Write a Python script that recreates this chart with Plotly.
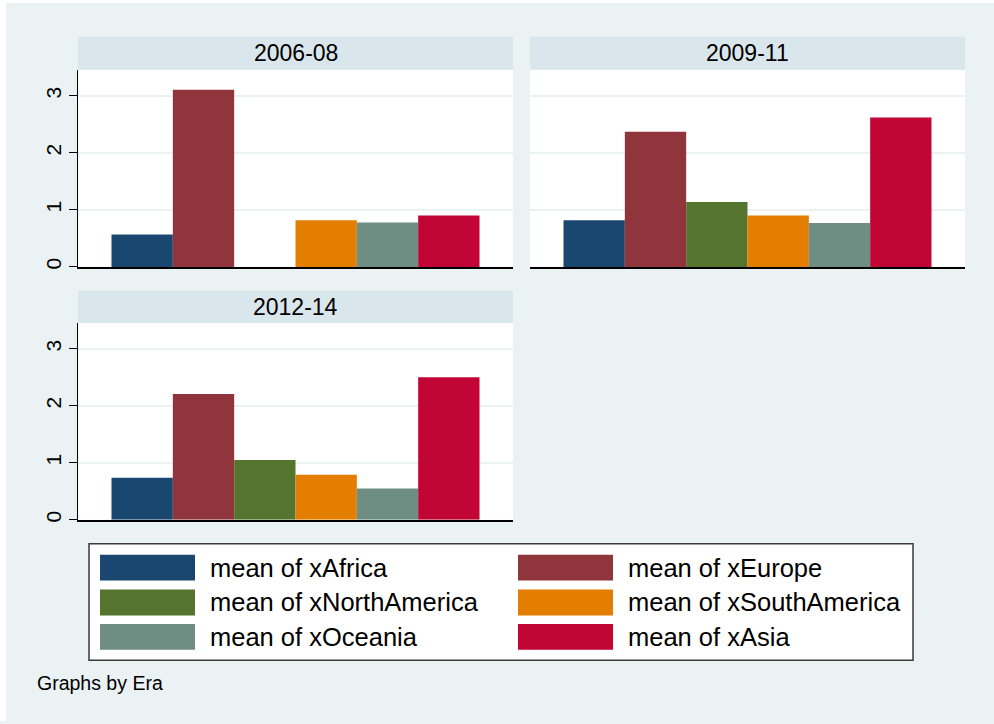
import plotly.graph_objects as go

# ---------------- data ----------------
eras = ["2006-08", "2009-11", "2012-14"]
series = ["mean of xAfrica", "mean of xEurope", "mean of xNorthAmerica",
          "mean of xSouthAmerica", "mean of xOceania", "mean of xAsia"]
colors = ["#1a476f", "#90353b", "#55752f", "#e37e00", "#6e8e84", "#c10534"]
vals_2006_08 = [0.57, 3.11, None, 0.82, 0.78, 0.90]
vals_2009_11 = [0.82, 2.37, 1.14, 0.90, 0.77, 2.62]
vals_2012_14 = [0.74, 2.21, 1.05, 0.79, 0.55, 2.50]
era_values = [vals_2006_08, vals_2009_11, vals_2012_14]
y_ticks = [0, 1, 2, 3]
footer = "Graphs by Era"

# ---------------- layout helpers ----------------
W, H = 994, 724
FONT = "Liberation Sans, Arial, Helvetica, sans-serif"
BG = "#eaf2f3"
STRIP = "#d9e6eb"


def px(x):
    return x / W


def py(y):
    return 1 - y / H


# panel boxes in pixels: (left, right, top, bottom, strip_top)
panels = [(78, 513, 70, 268, 37), (530, 965, 70, 268, 37), (78, 513, 324, 522, 292)]

fig = go.Figure()
layout = dict(
    width=W, height=H,
    margin=dict(l=0, r=0, t=0, b=0),
    paper_bgcolor=BG, plot_bgcolor="white",
    barmode="group", bargap=0.154, bargroupgap=0,
    showlegend=False,
    font=dict(family=FONT, color="black"),
)
shapes = []
annotations = []

# white outer border (left / top)
shapes.append(dict(type="rect", xref="paper", yref="paper", x0=0, x1=px(6), y0=0, y1=1,
                   fillcolor="white", line=dict(width=0), layer="below"))
shapes.append(dict(type="rect", xref="paper", yref="paper", x0=0, x1=1, y0=py(3), y1=1,
                   fillcolor="white", line=dict(width=0), layer="below"))

for i, (era, vals) in enumerate(zip(eras, era_values)):
    n = "" if i == 0 else str(i + 1)
    L, R, T, B, ST = panels[i]
    for name, col, v in zip(series, colors, vals):
        fig.add_trace(go.Bar(x=[0], y=[v], name=name, marker=dict(color=col, line=dict(width=0)),
                             xaxis="x" + n, yaxis="y" + n, showlegend=False))
    show_left = (i != 1)
    layout["xaxis" + n] = dict(domain=[px(L), px(R)], anchor="y" + n, range=[-0.5, 0.5],
                               showticklabels=False, ticks="", showgrid=False, zeroline=False,
                               showline=True, linecolor="black", linewidth=1.5, fixedrange=True)
    layout["yaxis" + n] = dict(domain=[py(B), py(T)], anchor="x" + n, range=[0, 3.46],
                               tickvals=y_ticks, ticktext=[str(t) for t in y_ticks],
                               showticklabels=show_left, ticks="outside" if show_left else "",
                               ticklen=8, tickcolor="black", tickwidth=1,
                               tickangle=-90, tickfont=dict(size=21, family=FONT),
                               showgrid=True, gridcolor=BG, gridwidth=2, zeroline=False,
                               showline=show_left, linecolor="black", linewidth=1, fixedrange=True)
    # strip header
    shapes.append(dict(type="rect", xref="paper", yref="paper", x0=px(L), x1=px(R),
                       y0=py(T), y1=py(ST), fillcolor=STRIP, line=dict(width=0), layer="below"))
    annotations.append(dict(text=era, xref="paper", yref="paper", x=(px(L) + px(R)) / 2,
                            y=(py(T) + py(ST)) / 2, xanchor="center", yanchor="middle",
                            showarrow=False, font=dict(size=23, family=FONT, color="black")))

# legend box
shapes.append(dict(type="rect", xref="paper", yref="paper", x0=px(89), x1=px(913),
                   y0=py(663), y1=py(546), fillcolor="white",
                   line=dict(color="#3a3a3a", width=1.5), layer="below"))
col_x = [100, 518]
row_y = [557, 592, 626.5]
for k, (name, col) in enumerate(zip(series, colors)):
    c, r = k % 2, k // 2
    x0 = col_x[c]
    y0 = row_y[r]
    shapes.append(dict(type="rect", xref="paper", yref="paper", x0=px(x0), x1=px(x0 + 95),
                       y0=py(y0 + 26), y1=py(y0), fillcolor=col,
                       line=dict(width=0), layer="below"))
    annotations.append(dict(text=name, xref="paper", yref="paper", x=px(x0 + 108),
                            y=py(y0 + 13), xanchor="left", yanchor="middle", showarrow=False,
                            font=dict(size=25.5, family=FONT, color="black")))

annotations.append(dict(text=footer, xref="paper", yref="paper", x=px(35), y=py(686),
                        xanchor="left", yanchor="middle", showarrow=False,
                        font=dict(size=19.5, family=FONT, color="black")))

layout["shapes"] = shapes
layout["annotations"] = annotations
fig.update_layout(**layout)
fig.write_html("out.html", config=dict(displayModeBar=False),
               post_script="document.body.style.margin='0';document.body.style.overflow='hidden';")
